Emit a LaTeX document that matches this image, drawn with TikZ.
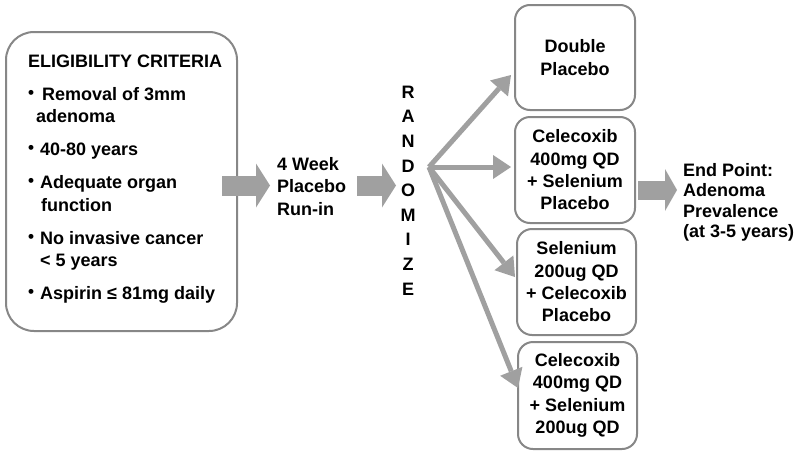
\documentclass[tikz,border=0pt]{standalone}
\usepackage{fontspec}
\setmainfont{Liberation Sans}
\usepackage{graphicx}
\usetikzlibrary{arrows.meta}
\definecolor{bordergray}{RGB}{135,135,135}
\definecolor{arrowgray}{RGB}{160,160,160}
\newcommand\mybul{\makebox[12pt][l]{\raisebox{2pt}{\scalebox{0.95}{\textbullet}}}}
\begin{document}
\begin{tikzpicture}[x=1pt,y=-1pt,
  txt/.style={font=\fontsize{18}{22.5}\selectfont\bfseries, inner sep=0pt},
  rbox/.style={draw=bordergray, line width=2pt, rounded corners=15pt, fill=white, inner sep=0pt,
    align=center, font=\fontsize{18}{22.3}\selectfont\bfseries},
  blockarrow/.style={draw=arrowgray, fill=arrowgray, line width=20pt, -{Triangle[length=14pt,width=44pt,line width=0pt]}},
  fanarrow/.style={draw=arrowgray, fill=arrowgray, line width=5pt, -{Triangle[length=18pt,width=24pt,line width=0pt]}}]
\useasboundingbox (0,0) rectangle (800,453);

% eligibility box
\node[rbox, rounded corners=28pt, minimum width=231pt, minimum height=299pt] (elig) at (121.5,181.5) {};
\node[txt, anchor=base west] (crit) at (28,67) {\begin{tabular}[t]{@{}l@{}}
ELIGIBILITY CRITERIA\\[10.5pt]
\mybul\hspace{2pt}Removal of 3mm\\
\hspace*{8pt}adenoma\\[10.5pt]
\mybul 40-80 years\\[10.5pt]
\mybul Adequate organ\\
\hspace*{13pt}function\\[10.5pt]
\mybul No invasive cancer\\
\hspace*{12pt}< 5 years\\[10.5pt]
\mybul Aspirin ≤ 81mg daily
\end{tabular}};

% run-in
\node[txt, anchor=base west] (run) at (277,170) {\begin{tabular}[t]{@{}l@{}}4 Week\\Placebo\\Run-in\end{tabular}};

% randomize
\node[inner sep=0pt, align=center, font=\fontsize{18}{24.6}\selectfont\bfseries] (rnd) at (408,190.5)
  {R\\A\\N\\D\\O\\M\\I\\Z\\E};

% arms
\node[rbox, minimum width=120pt, minimum height=105pt] (b1) at (575,57.5) {Double\\Placebo};
\node[rbox, minimum width=120pt, minimum height=106pt] (b2) at (575,170) {Celecoxib\\400mg QD\\+ Selenium\\Placebo};
\node[rbox, minimum width=119pt, minimum height=106pt] (b3) at (576.5,282) {Selenium\\200ug QD\\+ Celecoxib\\Placebo};
\node[rbox, minimum width=119pt, minimum height=107pt] (b4) at (577.5,395.5) {Celecoxib\\400mg QD\\+ Selenium\\200ug QD};

% end point
\node[txt, anchor=base west] (endp) at (683,176) {\fontsize{18}{20.5}\selectfont\begin{tabular}[t]{@{}l@{}}End Point:\\Adenoma\\Prevalence\\(at 3-5 years)\end{tabular}};

% block arrows
\coordinate (a1s) at (222,185.5);
\coordinate (a1e) at (270,185.5);
\coordinate (a2s) at (357,185.5);
\coordinate (a2e) at (396,185.5);
\coordinate (a3s) at (638,190);
\coordinate (a3e) at (677,190);
\draw[blockarrow] (a1s) -- (a1e);
\draw[blockarrow] (a2s) -- (a2e);
\draw[blockarrow, line width=19pt, -{Triangle[length=12pt,width=42pt,line width=0pt]}] (a3s) -- (a3e);

% fan arrows
\coordinate (fan) at (429,167);
\coordinate (t1) at (511,75);
\coordinate (t2) at (511,167);
\coordinate (t3) at (515,277);
\coordinate (t4) at (518,388);
\draw[fanarrow] (fan) -- (t1);
\draw[fanarrow] (fan) -- (t2);
\draw[fanarrow] (fan) -- (t3);
\draw[fanarrow] (fan) -- (t4);
\end{tikzpicture}
\end{document}
